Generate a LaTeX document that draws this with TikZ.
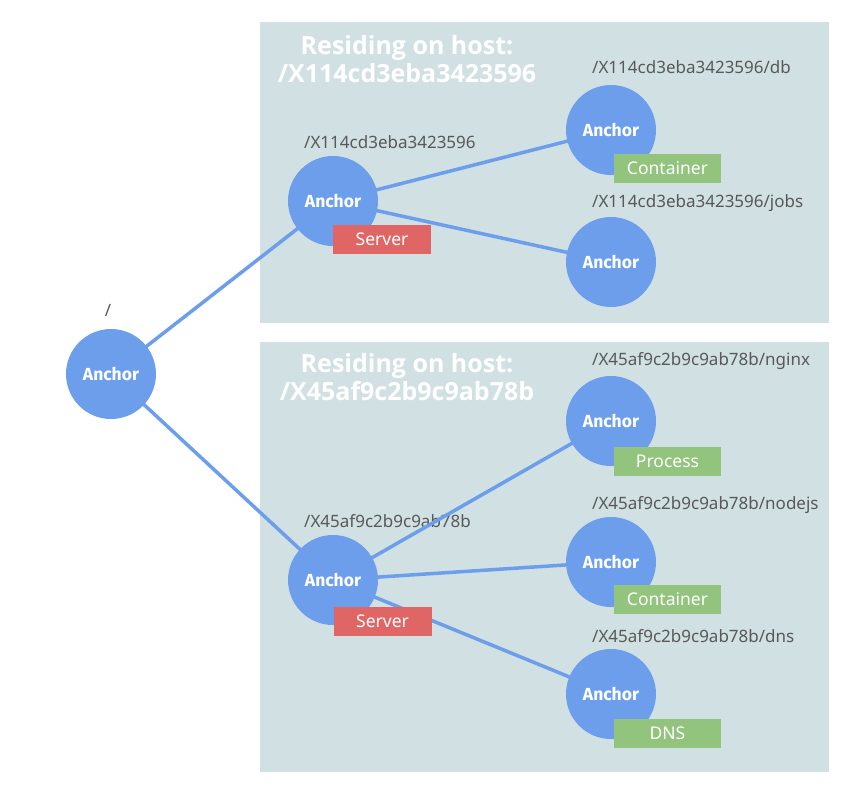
\documentclass[tikz,border=0pt]{standalone}
\usepackage{fontspec}
\setmainfont{Noto Sans}
\newfontfamily\anchorfont{Fira Sans}
\newfontfamily\titlefont{Open Sans}
\definecolor{panelc}{HTML}{D0E0E3}
\definecolor{anchorc}{HTML}{6D9EEB}
\definecolor{serverc}{HTML}{E06666}
\definecolor{greenc}{HTML}{93C47D}
\definecolor{labelc}{HTML}{595959}
\pgfdeclarelayer{panel}
\pgfdeclarelayer{edge}
\pgfsetlayers{panel,edge,main}
\tikzset{
  anchornode/.style={circle, fill=anchorc, minimum size=90pt, inner sep=0pt, text=white,
    font=\anchorfont\bfseries\fontsize{17.5}{20}\selectfont},
  tagbox/.style={rectangle, minimum height=29pt, inner sep=0pt, text=white,
    font=\fontsize{17.5}{20}\selectfont},
  serverbox/.style={tagbox, fill=serverc, minimum width=98pt},
  greenbox/.style={tagbox, fill=greenc, minimum width=107pt},
  pathlabel/.style={anchor=west, inner sep=0pt, text=labelc, font=\fontsize{17}{20}\selectfont},
  titletext/.style={align=center, text=white, inner sep=0pt, font=\titlefont\bfseries\fontsize{25}{28}\selectfont},
  edgeline/.style={draw=anchorc, line width=3.5pt}
}
\begin{document}
\begin{tikzpicture}[x=1pt,y=-1pt]
\useasboundingbox (0,0) rectangle (856,792);
\begin{pgfonlayer}{panel}
\fill[panelc] (260,22) rectangle (829,323);
\fill[panelc] (260,342) rectangle (829,772);
\node[titletext] (t1) at (407,59) {Residing on host:\\/X114cd3eba3423596};
\node[titletext] (t2) at (407,377) {Residing on host:\\/X45af9c2b9c9ab78b};
\node[text=labelc, font=\fontsize{17}{20}\selectfont, inner sep=0pt] (lroot) at (108,310) {/};
\node[pathlabel] (l1) at (304,142) {/X114cd3eba3423596};
\node[pathlabel] (l2) at (592,67) {/X114cd3eba3423596/db};
\node[pathlabel] (l3) at (592,203) {/X114cd3eba3423596/jobs};
\node[pathlabel] (l4) at (592,361) {/X45af9c2b9c9ab78b/nginx};
\node[pathlabel] (l5) at (304,521) {/X45af9c2b9c9ab78b};
\node[pathlabel] (l6) at (592,505) {/X45af9c2b9c9ab78b/nodejs};
\node[pathlabel] (l7) at (592,636) {/X45af9c2b9c9ab78b/dns};
\end{pgfonlayer}

\node[anchornode] (root) at (111,374) {Anchor};
\node[anchornode] (ts) at (333,201) {Anchor};
\node[anchornode] (db) at (611,130) {Anchor};
\node[anchornode] (jobs) at (611,262) {Anchor};
\node[anchornode] (bs) at (333,580) {Anchor};
\node[anchornode] (nginx) at (611,421) {Anchor};
\node[anchornode] (nodejs) at (611,562) {Anchor};
\node[anchornode] (dns) at (611,694) {Anchor};

\node[serverbox] (s1) at (382,239.5) {Server};
\node[greenbox] (c1) at (667.5,168.5) {Container};
\node[serverbox] (s2) at (382.5,621.5) {Server};
\node[greenbox] (p2) at (667.5,461.5) {Process};
\node[greenbox] (c2) at (667.5,599) {Container};
\node[greenbox] (d2) at (667.5,733) {DNS};

\begin{pgfonlayer}{edge}
\draw[edgeline] (root.center) -- (ts.center);
\draw[edgeline] (root.center) -- (bs.center);
\draw[edgeline] (ts.center) -- (db.center);
\draw[edgeline] (ts.center) -- (jobs.center);
\draw[edgeline] (bs.center) -- (nginx.center);
\draw[edgeline] (bs.center) -- (nodejs.center);
\draw[edgeline] (bs.center) -- (dns.center);
\end{pgfonlayer}
\end{tikzpicture}
\end{document}
